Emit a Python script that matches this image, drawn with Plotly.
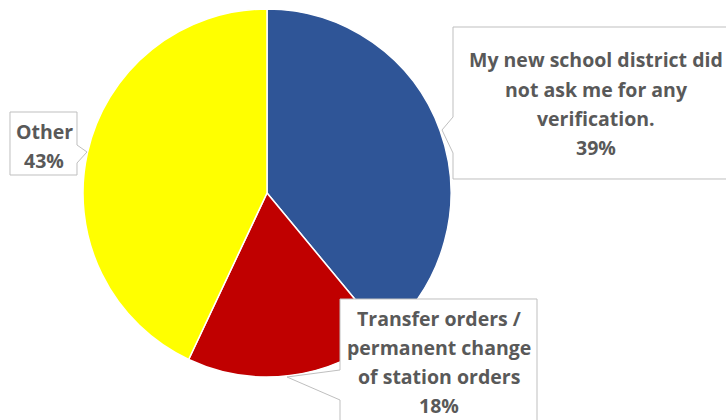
import plotly.graph_objects as go

# Data
categories = ["My new school district did not ask me for any verification.",
              "Transfer orders / permanent change of station orders",
              "Other"]
values = [39, 18, 43]
colors = ["#2F5597", "#C00000", "#FFFF00"]
label_lines = [
    ["My new school district did", "not ask me for any", "verification."],
    ["Transfer orders /", "permanent change", "of station orders"],
    ["Other"],
]

W, H = 726, 420


def px(x):
    return x / W


def py(y):
    return 1 - y / H


fig = go.Figure()
fig.add_trace(go.Pie(
    labels=categories,
    values=values,
    marker=dict(colors=colors, line=dict(color="white", width=1.5)),
    sort=False,
    direction="clockwise",
    rotation=0,
    textinfo="none",
    hoverinfo="label+percent",
    showlegend=False,
    domain=dict(x=[px(83), px(451)], y=[py(377), py(9)]),
))

# Callout boxes (pixel outlines converted to paper coords)
callouts = [
    [(453, 27), (740, 27), (740, 179), (453, 179), (453, 153), (442, 130), (453, 117)],
    [(340, 299), (537, 299), (537, 430), (340, 430), (340, 400), (287, 377), (340, 370)],
    [(10, 112), (77, 112), (77, 145), (87, 152), (77, 163), (77, 175), (10, 175)],
]
for pts in callouts:
    path = "M " + " L ".join(f"{px(x):.5f},{py(y):.5f}" for x, y in pts) + " Z"
    fig.add_shape(type="path", path=path, xref="paper", yref="paper",
                  fillcolor="white", line=dict(color="#BFBFBF", width=1), layer="above")

# Label text placement (pixel anchor for each label, line spacing)
anchors = [(596, 60), (439, 318), (44, 131)]
spacing = 29
total = sum(values)
font = dict(family="Open Sans", size=19.5, color="#595959")
for lines, v, (ax, ay) in zip(label_lines, values, anchors):
    all_lines = lines + [f"{round(100 * v / total)}%"]
    for i, t in enumerate(all_lines):
        fig.add_annotation(x=px(ax), y=py(ay + i * spacing), xref="paper", yref="paper",
                           text=f"<b>{t}</b>", showarrow=False, font=font,
                           xanchor="center", yanchor="middle")

fig.update_layout(width=W, height=H, margin=dict(l=0, r=0, t=0, b=0),
                  paper_bgcolor="white", plot_bgcolor="white")
fig.write_html("out.html", config={"displayModeBar": False},
               post_script="document.body.style.margin='0';document.body.style.overflow='hidden';")
